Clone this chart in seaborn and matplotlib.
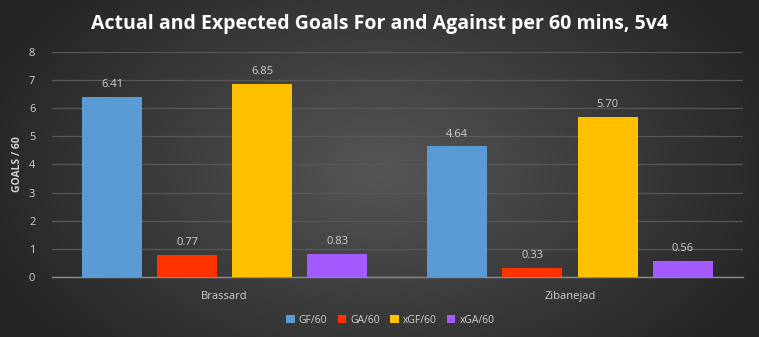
import numpy as np
import pandas as pd
import matplotlib
matplotlib.use("Agg")
import matplotlib.pyplot as plt
import seaborn as sns

players = ["Brassard", "Zibanejad"]
metrics = ["GF/60", "GA/60", "xGF/60", "xGA/60"]
gf60 = [6.41, 4.64]
ga60 = [0.77, 0.33]
xgf60 = [6.85, 5.70]
xga60 = [0.83, 0.56]
colors = ["#5B9BD5", "#FF3300", "#FFC000", "#A55AFF"]

rows = []
for m, vals in zip(metrics, [gf60, ga60, xgf60, xga60]):
    for p, v in zip(players, vals):
        rows.append({"player": p, "metric": m, "value": v})
df = pd.DataFrame(rows)

sns.set_theme(style="white")
plt.rcParams["font.family"] = ["Open Sans", "DejaVu Sans"]

fig = plt.figure(figsize=(7.59, 3.37), dpi=100)

# radial gradient background
bg = fig.add_axes([0, 0, 1, 1], zorder=-10)
yy, xx = np.mgrid[0:337, 0:759]
r = np.sqrt(((xx - 380) / 420.0) ** 2 + ((yy - 170) / 260.0) ** 2)
val = np.clip(0.335 - 0.19 * r, 0.14, 0.34)
bg.imshow(np.dstack([val, val, val]), aspect="auto", extent=[0, 1, 0, 1])
bg.axis("off")

ax = fig.add_axes([0.0685, 0.178, 0.91, 0.668])
ax.patch.set_alpha(0)
sns.barplot(data=df, x="player", y="value", hue="metric", hue_order=metrics,
            palette=colors, width=0.87, gap=0.2, saturation=1, ax=ax,
            legend=True, zorder=3, linewidth=0, edgecolor="none")

ax.set_ylim(0, 8)
ax.set_yticks(range(0, 9))
ax.yaxis.grid(True, color="#585858", linewidth=0.9, zorder=0)
ax.set_axisbelow(True)
for s in ["top", "right", "left"]:
    ax.spines[s].set_visible(False)
ax.spines["bottom"].set_color("#8C8C8C")
ax.spines["bottom"].set_linewidth(1.0)
ax.tick_params(axis="both", length=0, colors="#D0D0D0", labelsize=8)
ax.tick_params(axis="x", pad=10)
ax.tick_params(axis="y", pad=12)
ax.set_xlabel("")
ax.set_ylabel("GOALS / 60", color="#D0D0D0", fontsize=7.5, fontweight="bold", labelpad=4)

for cont in ax.containers:
    ax.bar_label(cont, fmt="%.2f", padding=5, color="#D0D0D0", fontsize=8)

leg = ax.legend(loc="upper center", bbox_to_anchor=(0.49, -0.125), ncol=4, frameon=False,
                fontsize=7.5, handlelength=0.8, handleheight=0.8, handletextpad=0.4,
                columnspacing=1.0, labelcolor="#D0D0D0")
for h in leg.legend_handles:
    h.set_edgecolor("none")
    h.set_linewidth(0)

fig.text(0.5, 0.93, "Actual and Expected Goals For and Against per 60 mins, 5v4",
         ha="center", va="center", color="white", fontsize=14, fontweight="bold")

fig.savefig("out.png", dpi=100)
